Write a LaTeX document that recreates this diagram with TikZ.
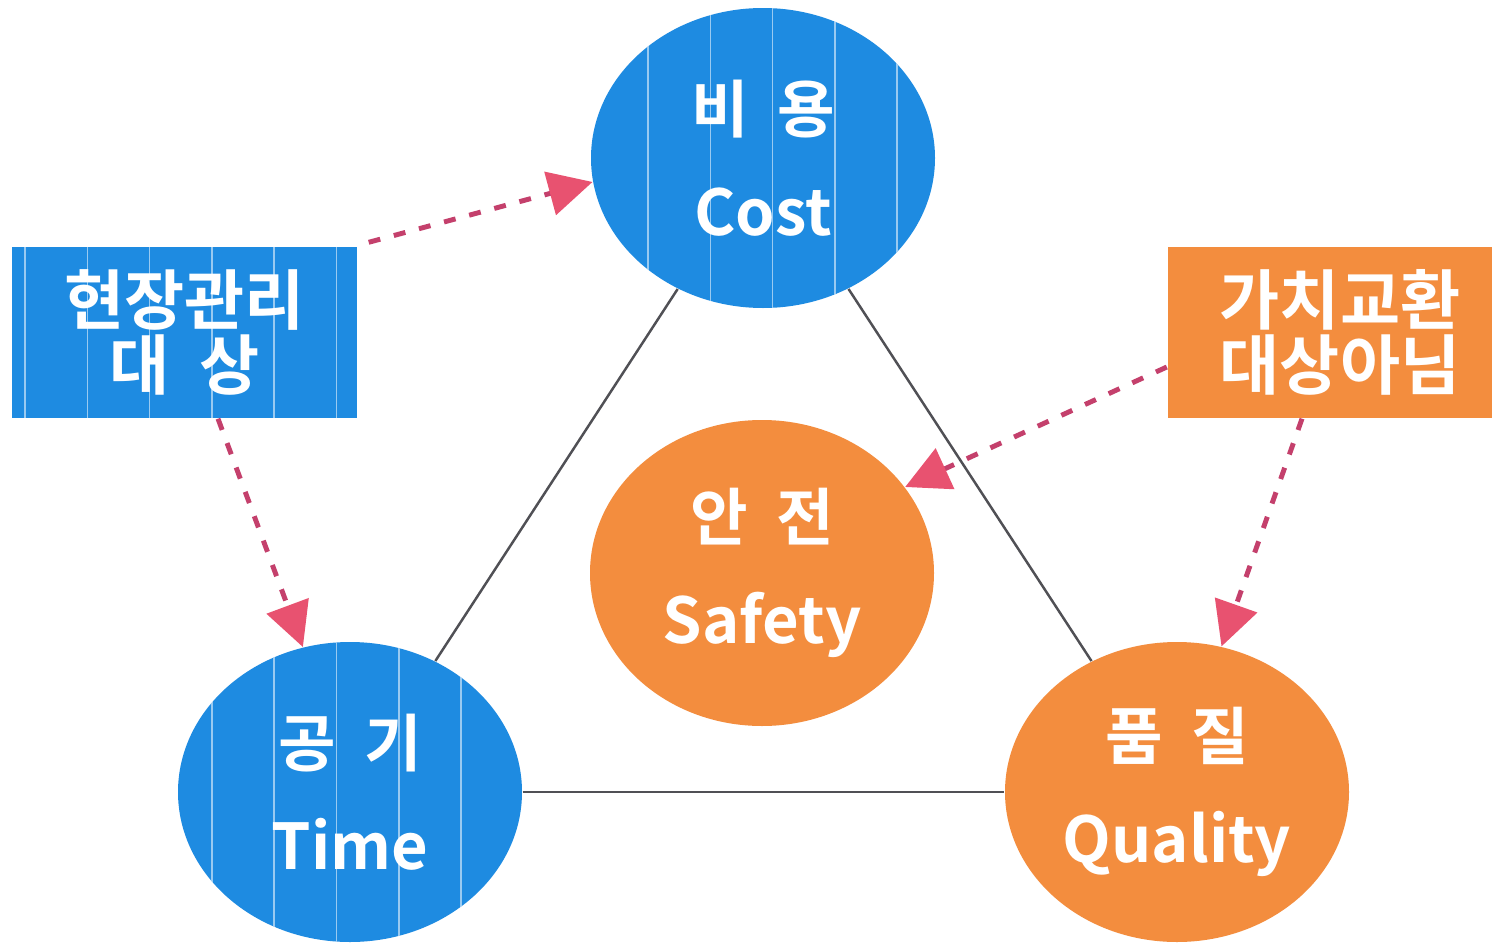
\documentclass[tikz,border=0pt]{standalone}
\usepackage{fontspec}
\setmainfont{Noto Sans CJK KR}[BoldFont={Noto Sans CJK KR Bold}]
\newfontfamily\kr{Noto Sans CJK KR}[BoldFont={Noto Sans CJK KR Bold}]
\usetikzlibrary{shapes.geometric,arrows.meta}
\definecolor{cblue}{RGB}{30,139,225}
\definecolor{corange}{RGB}{243,141,62}
\definecolor{cdash}{RGB}{196,64,108}
\definecolor{ctip}{RGB}{232,82,112}
\definecolor{cline}{RGB}{80,80,85}
\tikzset{
 circ/.style={ellipse, minimum width=3.44cm, minimum height=3.0cm, inner sep=0pt, text=white, align=center, font=\bfseries\fontsize{18}{29.3}\selectfont},
 bluec/.style={circ, fill=cblue},
 orangec/.style={circ, fill=corange},
 boxn/.style={rectangle, minimum width=3.45cm, minimum height=1.71cm, inner sep=0pt, text=white, align=center, font=\kr\bfseries\fontsize{18.6}{18.4}\selectfont},
 tri/.style={draw=cline, line width=0.7pt},
 darr/.style={draw=cdash, line width=1.4pt, dash pattern=on 3.4pt off 4pt, -{Triangle[length=12.5pt,width=12.5pt,fill=ctip,color=ctip]}},
 stripe/.style={draw=white, opacity=0.55, line width=0.45pt}
}
\begin{document}
\begin{tikzpicture}
\clip (0,0) rectangle (14.92,-9.44);
\fill[white] (0,0) rectangle (14.92,-9.44);
% nodes
\node[bluec] (cost) at (7.63,-1.58) {{\kr\fontsize{17.8}{29.3}\selectfont 비\hspace{0.45em}용}\\Cost};
\node[bluec] (time) at (3.50,-7.92) {{\kr\fontsize{17.8}{29.3}\selectfont 공\hspace{0.45em}기}\\Time};
\node[orangec, minimum height=3.06cm] (safety) at (7.62,-5.73) {{\kr\fontsize{17.8}{29.3}\selectfont 안\hspace{0.45em}전}\\Safety};
\node[orangec] (quality) at (11.77,-7.92) {{\kr\fontsize{17.8}{29.3}\selectfont 품\hspace{0.45em}질}\\Quality};
\node[boxn, fill=cblue] (box1) at (1.845,-3.325) {현장관리\\대\hspace{0.45em}상};
\node[boxn, fill=corange] (box2) at (13.40,-3.325) {가치교환\\대상아님};
% stripes on blue shapes
\begin{scope}
\clip (cost.center) ellipse [x radius=1.72cm, y radius=1.5cm]
      (time.center) ellipse [x radius=1.72cm, y radius=1.5cm]
      (box1.south west) rectangle (box1.north east);
\foreach \k in {0,...,23} \draw[stripe] ({0.25+0.623*\k},0) -- ({0.25+0.623*\k},-9.44);
\end{scope}
% triangle
\draw[tri] (cost) -- (time);
\draw[tri] (cost) -- (quality);
\draw[tri] (time) -- (quality);
% dashed arrows
\draw[darr] ([shift={(0.11,0.04)}]box1.north east) -- (cost.188);
\draw[darr] ([xshift=0.335cm]box1.south) -- (time.108);
\draw[darr] ([yshift=-0.345cm]box2.west) -- (safety.31);
\draw[darr] ([xshift=-0.38cm]box2.south) -- (quality.73);
\end{tikzpicture}
\end{document}
